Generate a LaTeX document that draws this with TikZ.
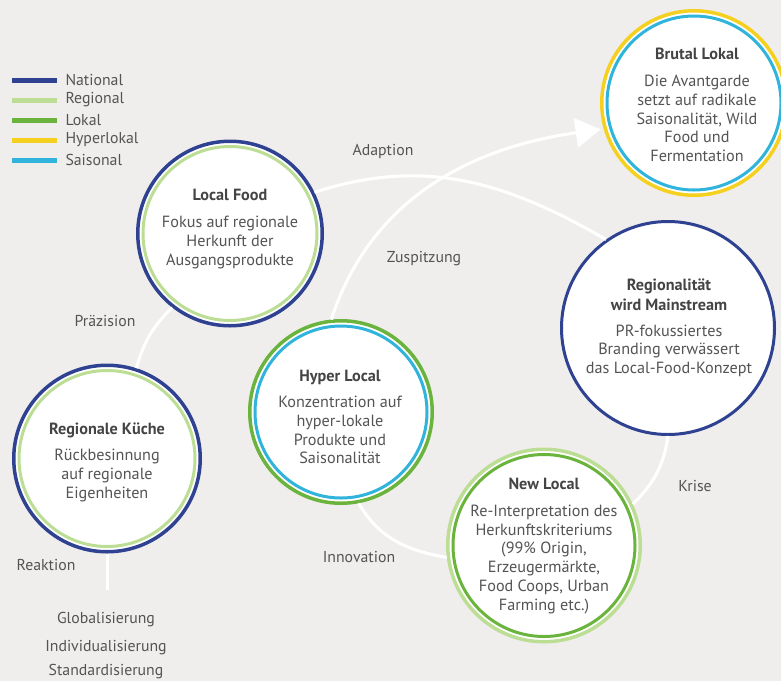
\documentclass[tikz,border=0pt]{standalone}
\usepackage{fontspec}
\setmainfont{PT Sans}
\usetikzlibrary{arrows.meta}
\definecolor{bg}{RGB}{239,238,237}
\definecolor{navy}{RGB}{47,66,146}
\definecolor{regio}{RGB}{188,222,148}
\definecolor{lokal}{RGB}{106,179,60}
\definecolor{hyper}{RGB}{245,208,30}
\definecolor{saison}{RGB}{48,180,220}
\definecolor{titlegrey}{RGB}{68,68,68}
\definecolor{bodygrey}{RGB}{84,84,84}
\newcommand\cardtitle[1]{{\bfseries\color{titlegrey}#1}}

\begin{document}
\begin{tikzpicture}[x=1pt,y=1pt,
  ring/.style n args={3}{circle, draw=#1, line width=3.5pt, fill=white,
    inner sep=0pt, minimum size=#3,
    path picture={\draw[#2, line width=3pt] (path picture bounding box.center)
      circle[radius=0.5*#3-5.25pt];}},
  plainring/.style n args={2}{circle, draw=#1, line width=3pt, fill=white,
    inner sep=0pt, minimum size=#2},
  card/.style={align=center, text=bodygrey, font=\fontsize{16.2}{18.7}\selectfont, inner sep=0pt},
  lbl/.style={text=bodygrey, font=\fontsize{15.8}{18}\selectfont, inner sep=0pt},
  conn/.style={draw=white, line width=3pt},
  keyline/.style={line width=5pt},
]
% canvas and fixed frame
\fill[bg] (0,0) rectangle (781,-681);
\useasboundingbox (0,0) rectangle (781,-681);

% legend
\draw[keyline, navy]   (12,-80)  -- (57,-80)  node[lbl, anchor=west, xshift=6pt] (kNat) {National};
\draw[keyline, regio]  (12,-100) -- (57,-100) node[lbl, anchor=west, xshift=6pt] (kReg) {Regional};
\draw[keyline, lokal]  (12,-120) -- (57,-120) node[lbl, anchor=west, xshift=6pt] (kLok) {Lokal};
\draw[keyline, hyper]  (12,-140) -- (57,-140) node[lbl, anchor=west, xshift=6pt] (kHyp) {Hyperlokal};
\draw[keyline, saison] (12,-160) -- (57,-160) node[lbl, anchor=west, xshift=6pt] (kSai) {Saisonal};

% stage circles
\node[ring={navy}{regio}{184.5pt}]   (lf) at (230,-233.5) {};
\node[ring={hyper}{saison}{184.5pt}] (bl) at (694,-103) {};
\node[plainring={navy}{213pt}]       (rm) at (668,-328) {};
\node[ring={lokal}{saison}{182.5pt}] (hl) at (341,-412) {};
\node[ring={navy}{regio}{186.5pt}]   (rk) at (107,-458.5) {};
\node[ring={regio}{lokal}{192.5pt}]  (nl) at (544,-545.5) {};

% transitions
\coordinate (reakEnd) at (107,-590);
\draw[conn] (rk.270) -- (reakEnd);
\draw[conn] (rk.72) to[bend left=15] (lf.232);
\draw[conn] (lf.26) to[out=18,in=150] (rm.125);
\draw[conn] (rm.270) to[out=262,in=45] (nl.25);
\draw[conn] (hl.281) to[out=300,in=170] (nl.187);
\draw[conn, -{Triangle[length=25pt,width=29pt]}, shorten >=3pt]
  (hl.96) to[out=72,in=188] (bl.196);

% circle texts
\node[card] (lfText) at (230,-229) {\cardtitle{Local Food}\\[8pt]Fokus auf regionale\\Herkunft der\\Ausgangsprodukte};
\node[card] (blText) at (697,-105) {\cardtitle{Brutal Lokal}\\[8pt]Die Avantgarde\\setzt auf radikale\\Saisonalität, Wild\\Food und\\Fermentation};
\node[card] (rmText) at (669,-328) {\cardtitle{Regionalität}\\[1pt]\cardtitle{wird Mainstream}\\[7pt]PR-fokussiertes\\Branding verwässert\\das Local-Food-Konzept};
\node[card] (hlText) at (340,-417) {\cardtitle{Hyper Local}\\[8pt]Konzentration auf\\hyper-lokale\\Produkte und\\Saisonalität};
\node[card] (rkText) at (107,-462) {\cardtitle{Regionale Küche}\\[8pt]Rückbesinnung\\auf regionale\\Eigenheiten};
\node[card] (nlText) at (544,-546) {\cardtitle{New Local}\\[8pt]Re-Interpretation des\\Herkunftskriteriums\\(99\% Origin,\\Erzeugermärkte,\\Food Coops, Urban\\Farming etc.)};

% transition labels
\node[lbl] (tAdapt) at (383,-151) {Adaption};
\node[lbl] (tZusp)  at (424,-259) {Zuspitzung};
\node[lbl] (tPraez) at (105,-321) {Präzision};
\node[lbl] (tKrise) at (695,-486) {Krise};
\node[lbl] (tInno)  at (359,-557) {Innovation};
\node[lbl] (tReak)  at (46,-565)  {Reaktion};

% driving forces
\node[lbl] (fGlob) at (106,-620) {Globalisierung};
\node[lbl] (fIndi) at (106,-648) {Individualisierung};
\node[lbl] (fStan) at (106,-672) {Standardisierung};
\end{tikzpicture}
\end{document}
